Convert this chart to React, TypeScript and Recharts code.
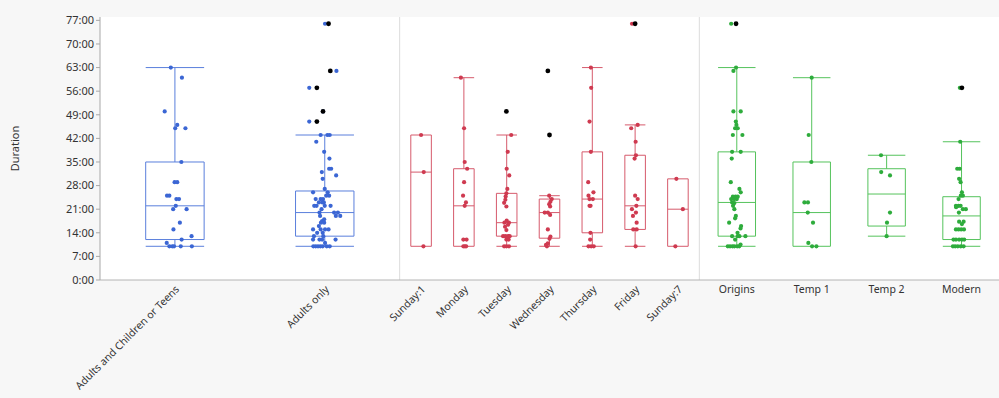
import React from 'react';
import { ScatterChart, Scatter, XAxis, YAxis, ReferenceArea, ReferenceLine, CartesianGrid } from 'recharts';

// ---------- categories ----------
const blueCategories = ['Adults and Children or Teens', 'Adults only'];
const redCategories = ['Sunday:1', 'Monday', 'Tuesday', 'Wednesday', 'Thursday', 'Friday', 'Sunday:7'];
const greenCategories = ['Origins', 'Temp 1', 'Temp 2', 'Modern'];

// ---------- box stats: [min whisker, q1, median, q3, max whisker] (minutes) ----------
const blueStats = [
  [10, 12, 22, 35, 63],
  [10, 13, 20, 26.4, 43],
];
const redStats = [
  [10, 10, 32, 43, 43],
  [10, 10, 22, 33, 60],
  [10, 13, 17, 25.7, 43],
  [10, 12.4, 20, 24, 25],
  [10, 14, 24, 38, 63],
  [10, 15, 22, 37, 46],
  [10, 10, 21, 30, 30],
];
const greenStats = [
  [10, 13, 23, 38, 63],
  [10, 10, 20, 35, 60],
  [13, 16, 25.5, 33, 37],
  [10, 12, 19, 24.7, 41],
];

// ---------- points: [minutes, jitter] ----------
const adultsChildrenPoints = [
  [63, -0.14], [60, 0.24], [50, -0.35], [46, 0.08], [45, 0.01], [45, 0.36], [35, 0.22], [29, -0.01], [29, 0.08],
  [25, -0.27], [25, -0.19], [24, 0.05], [24, 0.14], [22, 0.03], [21, -0.06], [21, 0.4], [17, 0.17], [15, -0.05],
  [13, 0.57], [12, 0.23], [11, -0.28], [10, -0.19], [10, -0.09], [10, -0.03], [10, 0.2], [10, 0.58],
];
const adultsOnlyPoints = [
  [76, 0.01], [62, 0.4], [57, -0.53], [50, -0.06], [47, -0.53],
  [43, -0.14], [43, 0.09], [43, 0.17], [41, -0.29], [38, -0.02], [36, 0.16], [33, 0.15], [33, 0.22], [32, -0.1],
  [31, 0.39], [30, -0.07], [27, 0], [26, -0.4], [26, 0.1], [25, 0.15], [25, 0.05], [24, -0.31], [24, -0.14],
  [24, -0.06], [23, -0.2], [23, -0.08], [23, -0.03], [22, -0.36], [22, -0.28], [22, 0], [22, 0.2], [21, -0.11],
  [20, -0.18], [20, 0.32], [20, 0.45], [19, 0.38], [19, 0.53], [19, -0.16], [18, -0.02], [17.5, -0.09],
  [17, -0.13], [17, -0.02], [16, -0.2], [15, -0.4], [15, -0.14], [15, 0.01], [15, 0.13], [14, -0.26], [14, -0.07],
  [13, -0.37], [13, -0.05], [12, -0.4], [12, -0.18], [12, -0.09], [12, 0.37], [11, 0.01], [10, -0.39],
  [10, -0.31], [10, -0.23], [10, -0.15], [10, -0.07], [10, 0.07], [10, 0.17],
];
const sunday1Points = [[43, 0], [32, 0.26], [10, 0.23]];
const mondayPoints = [
  [60, -0.29], [45, 0.02], [35, 0.08], [33, 0.32], [29, 0.02], [25, -0.08], [23, 0.2], [22, 0.08], [12, -0.05],
  [12, 0.26], [10, -0.05], [10, 0.1], [10, 0.22],
];
const tuesdayPoints = [
  [43, 0.44], [38, 0.1], [33, 0], [31, 0.25], [27, 0.06], [25.7, -0.03], [24.8, -0.1], [23.8, -0.13],
  [22.9, -0.25], [21.8, -0.03], [17.6, 0], [17, -0.22], [17, 0.22], [16.4, 0.13], [15.8, -0.16], [14.8, -0.03],
  [13, -0.35], [13, -0.13], [13, 0.13], [13, 0.29], [12, -0.03], [12, 0.19], [10, -0.25], [10, -0.03], [10, 0.22],
];
const wednesdayPoints = [
  [25, -0.03], [24, 0.22], [23.2, 0.09], [22.5, -0.03], [21.8, 0.06], [20, -0.47], [20, -0.16], [19.3, 0.06],
  [15, -0.16], [12.9, 0.09], [12.2, 0], [10.9, -0.16], [10.4, -0.34], [10, -0.25],
];
const thursdayPoints = [
  [63, -0.14], [57, -0.11], [47, -0.27], [38, -0.14], [29, -0.4], [26, 0.11], [25, -0.37], [24, 0.05],
  [24, -0.27], [22, -0.27], [22, -0.17], [14, -0.18], [12, -0.21], [10, -0.37], [10, -0.11], [10, 0.14],
];
const fridayPoints = [
  [76, -0.3], [46, 0.25], [45, -0.38], [41, 0.05], [37, 0.08], [36, -0.05], [25, 0], [24, 0.25], [22, 0.12],
  [21, -0.31], [20, 0.08], [19, -0.21], [17, 0.15], [15, -0.18], [15, 0.15], [10, 0.05],
];
const sunday7Points = [[30, -0.15], [21, 0.48], [10, -0.25]];
const originsPoints = [
  [76, -0.3], [63, -0.04], [62, -0.18], [50, -0.18], [50, 0.21], [47, -0.05], [46, -0.02], [45, 0.05],
  [45, -0.09], [43, -0.21], [43, 0.3], [38, -0.25], [38, 0.21], [36, -0.27], [29, -0.32], [27, 0.14], [26, 0.21],
  [24.7, -0.21], [24.7, -0.07], [24.7, 0.05], [24, -0.3], [24, -0.14], [24, 0], [23, -0.25], [22.8, -0.13],
  [22, -0.2], [21, -0.13], [19, -0.05], [18.3, -0.09], [17, -0.41], [16, 0.23], [15.3, 0.2], [14, 0.04],
  [13, -0.25], [13, 0.05], [13, 0.46], [13, 0.14], [12, -0.09], [10, -0.48], [10, -0.36], [10, -0.23],
  [10, -0.13], [10, 0.02], [10, 0.13], [10.5, 0.2],
];
const temp1Points = [
  [60, 0], [43, -0.16], [35, -0.02], [23, -0.39], [23, -0.2], [20, -0.21], [17, 0.07], [11, -0.18], [10, 0.02], [10, 0.25],
];
const temp2Points = [[37, -0.3], [32, -0.29], [31, 0.18], [20, 0.18], [17, 0.02], [13, 0]];
const modernPoints = [
  [57, -0.09], [41, -0.07], [33, -0.23], [33, -0.1], [30, -0.13], [29, -0.05], [26, 0.02], [25, -0.04], [25, 0.07],
  [24, -0.16], [22, -0.3], [22, -0.16], [22, -0.05], [21.6, -0.29], [21, 0.07], [21, 0.23], [20, -0.14],
  [17.3, -0.13], [17.3, 0.11], [16.6, 0.02], [15, -0.3], [15, -0.16], [15, -0.02], [15, 0.13], [12, -0.43],
  [12, -0.3], [12, -0.13], [12, 0.02], [12, 0.14], [10, -0.46], [10, -0.34], [10, -0.2], [10, -0.04], [10, 0.11],
];

// ---------- outliers: [minutes, jitter] ----------
const blueOutliers = [[], [[76, 0.13], [62, 0.19], [57, -0.27], [50, -0.06], [47, -0.27]]];
const redOutliers = [[], [], [[50, -0.03]], [[62, -0.16], [43, 0]], [], [[76, 0]], []];
const greenOutliers = [[[76, -0.04]], [], [], [[57, 0.02]]];

const yTicks = [0, 7, 14, 21, 28, 35, 42, 49, 56, 63, 70, 77];

// ---------- assembly ----------
const categoriesByGroup = [blueCategories, redCategories, greenCategories];
const statsByGroup = [blueStats, redStats, greenStats];
const pointsByGroup = [
  [adultsChildrenPoints, adultsOnlyPoints],
  [sunday1Points, mondayPoints, tuesdayPoints, wednesdayPoints, thursdayPoints, fridayPoints, sunday7Points],
  [originsPoints, temp1Points, temp2Points, modernPoints],
];
const outliersByGroup = [blueOutliers, redOutliers, greenOutliers];

const pointColors = ['#3b66d4', '#cf3a50', '#2eac3c'];
const boxColors = ['#5a7fdc', '#d65a6c', '#55c35c'];
const boxWidthFrac = [0.39, 0.48, 0.5];
const labelRotated = [true, true, false];
const FONT = "'Noto Sans', 'Open Sans', sans-serif";
const TEXT = '#333333';

type Cat = { label: string; pos: number; half: number; group: number; stats: number[] };
const cats: Cat[] = [];
categoriesByGroup.forEach((list, g) => {
  list.forEach((label, i) => {
    const n = list.length;
    cats.push({ label, pos: g + (i + 0.5) / n, half: boxWidthFrac[g] / (2 * n), group: g, stats: statsByGroup[g][i] });
  });
});

const groupPointData = pointsByGroup.map((lists, g) => {
  const out: { x: number; y: number }[] = [];
  lists.forEach((pts, i) => {
    const c = cats.find((k) => k.group === g && k.label === categoriesByGroup[g][i])!;
    pts.forEach(([v, j]) => out.push({ x: c.pos + j * c.half, y: v }));
  });
  return out;
});
const outlierData: { x: number; y: number }[] = [];
outliersByGroup.forEach((lists, g) => {
  lists.forEach((pts, i) => {
    const c = cats.find((k) => k.group === g && k.label === categoriesByGroup[g][i])!;
    (pts as number[][]).forEach(([v, j]) => outlierData.push({ x: c.pos + j * c.half, y: v }));
  });
});

const XTick = (props: any) => {
  const { x, y, payload } = props;
  const c = cats.find((k) => Math.abs(k.pos - payload.value) < 1e-6);
  if (!c) return null;
  if (labelRotated[c.group]) {
    const ax = x + 5;
    const ay = y + 10;
    return (
      <text x={ax} y={ay} transform={`rotate(-45, ${ax}, ${ay})`} textAnchor="end" fontSize={10.5} fill={TEXT} fontFamily={FONT}>
        {c.label}
      </text>
    );
  }
  return (
    <text x={x} y={y + 13} textAnchor="middle" fontSize={10.5} fill={TEXT} fontFamily={FONT}>
      {c.label}
    </text>
  );
};

const dot = (color: string, r: number) => (p: any) => <circle cx={p.cx} cy={p.cy} r={r} fill={color} />;

const DurationLabel = (p: any) => {
  const vb = p.viewBox && p.viewBox.height ? p.viewBox : { y: 17, height: 263 };
  const cx = 14;
  const cy = vb.y + vb.height / 2;
  return (
    <text x={cx} y={cy} transform={`rotate(-90, ${cx}, ${cy})`} textAnchor="middle" dominantBaseline="central" fontSize={11} fill={TEXT} fontFamily={FONT}>
      Duration
    </text>
  );
};

export default function App() {
  return (
    <div style={{ position: 'absolute', left: 0, top: 0, width: 999, height: 398, background: '#f7f7f7' }}>
      <ScatterChart width={999} height={398} margin={{ top: 17, right: 0, bottom: 0, left: 0 }}>
        <CartesianGrid horizontal={false} vertical={false} fill="#ffffff" fillOpacity={1} />
        <XAxis
          type="number"
          dataKey="x"
          domain={[0, 3]}
          ticks={cats.map((c) => c.pos)}
          interval={0}
          tick={<XTick />}
          tickLine={false}
          tickSize={0}
          tickMargin={0}
          height={118}
          axisLine={{ stroke: '#b4b4b4' }}
        />
        <YAxis
          type="number"
          dataKey="y"
          domain={[0, 78]}
          ticks={yTicks}
          interval={0}
          width={100}
          tickSize={4}
          tickMargin={2}
          tickFormatter={(v: number) => `${v}:00`}
          tick={{ fontSize: 11, fill: TEXT, fontFamily: FONT }}
          axisLine={{ stroke: '#a8a8a8' }}
          tickLine={{ stroke: '#a8a8a8' }}
          label={{ content: (p: any) => <DurationLabel {...p} /> }}
        />
        <ReferenceLine x={1} stroke="#dcdcdc" />
        <ReferenceLine x={2} stroke="#dcdcdc" />
        {cats.map((c, idx) => {
          const [mn, q1, med, q3, mx] = c.stats;
          const col = boxColors[c.group];
          const l = c.pos - c.half;
          const r = c.pos + c.half;
          return (
            <React.Fragment key={idx}>
              <ReferenceArea x1={l} x2={r} y1={q1} y2={q3} fill="#ffffff" fillOpacity={0} stroke={col} strokeWidth={1} strokeOpacity={1} />
              <ReferenceLine segment={[{ x: l, y: med }, { x: r, y: med }]} stroke={col} />
              {mx > q3 && <ReferenceLine segment={[{ x: c.pos, y: q3 }, { x: c.pos, y: mx }]} stroke={col} />}
              {mx > q3 && <ReferenceLine segment={[{ x: l, y: mx }, { x: r, y: mx }]} stroke={col} />}
              {mn < q1 && <ReferenceLine segment={[{ x: c.pos, y: mn }, { x: c.pos, y: q1 }]} stroke={col} />}
              {mn < q1 && <ReferenceLine segment={[{ x: l, y: mn }, { x: r, y: mn }]} stroke={col} />}
            </React.Fragment>
          );
        })}
        {groupPointData.map((d, g) => (
          <Scatter key={g} data={d} isAnimationActive={false} shape={dot(pointColors[g], 2.1)} />
        ))}
        <Scatter data={outlierData} isAnimationActive={false} shape={dot('#000000', 2.4)} />
      </ScatterChart>
    </div>
  );
}
